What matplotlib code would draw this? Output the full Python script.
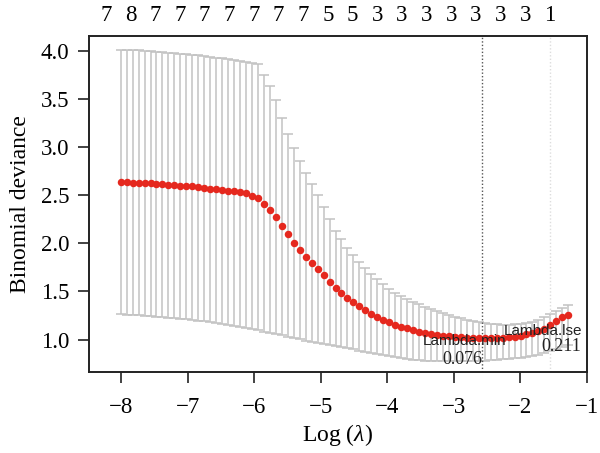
import matplotlib
matplotlib.use("Agg")
import matplotlib.pyplot as plt
import numpy as np

# ---------------- data ----------------
log_lambda = [
    -8.010, -7.920, -7.831, -7.741, -7.651, -7.561, -7.472, -7.382, -7.292, -7.202,
    -7.113, -7.023, -6.933, -6.843, -6.754, -6.664, -6.574, -6.484, -6.395, -6.305,
    -6.215, -6.125, -6.036, -5.946, -5.856, -5.767, -5.677, -5.587, -5.497, -5.408,
    -5.318, -5.228, -5.138, -5.049, -4.959, -4.869, -4.779, -4.690, -4.600, -4.510,
    -4.420, -4.331, -4.241, -4.151, -4.061, -3.972, -3.882, -3.792, -3.702, -3.613,
    -3.523, -3.433, -3.343, -3.254, -3.164, -3.074, -2.984, -2.895, -2.805, -2.715,
    -2.625, -2.536, -2.446, -2.356, -2.267, -2.177, -2.087, -1.997, -1.908, -1.818,
    -1.728, -1.638, -1.549, -1.459, -1.369, -1.280]

cv_mean = [
    2.635, 2.635, 2.631, 2.628, 2.624, 2.621, 2.617, 2.614, 2.610, 2.604,
    2.600, 2.593, 2.590, 2.583, 2.576, 2.569, 2.562, 2.555, 2.548, 2.538,
    2.531, 2.521, 2.489, 2.473, 2.413, 2.351, 2.275, 2.178, 2.092, 2.006,
    1.929, 1.861, 1.798, 1.736, 1.670, 1.601, 1.535, 1.483, 1.436, 1.387,
    1.348, 1.307, 1.270, 1.239, 1.207, 1.183, 1.156, 1.135, 1.117, 1.096,
    1.083, 1.069, 1.058, 1.048, 1.041, 1.034, 1.027, 1.024, 1.017, 1.013,
    1.013, 1.013, 1.013, 1.017, 1.020, 1.024, 1.031, 1.041, 1.055, 1.072,
    1.089, 1.113, 1.151, 1.189, 1.231, 1.259]

cv_upper = [
    4.010, 4.008, 4.005, 4.002, 3.998, 3.994, 3.990, 3.985, 3.980, 3.975,
    3.969, 3.963, 3.957, 3.950, 3.943, 3.936, 3.928, 3.920, 3.912, 3.903,
    3.894, 3.884, 3.872, 3.858, 3.751, 3.637, 3.485, 3.302, 3.136, 2.990,
    2.852, 2.725, 2.611, 2.500, 2.376, 2.248, 2.133, 2.040, 1.954, 1.874,
    1.809, 1.739, 1.684, 1.625, 1.573, 1.529, 1.487, 1.452, 1.418, 1.390,
    1.366, 1.342, 1.318, 1.297, 1.276, 1.256, 1.238, 1.221, 1.207, 1.193,
    1.183, 1.172, 1.166, 1.159, 1.155, 1.155, 1.159, 1.162, 1.169, 1.183,
    1.207, 1.235, 1.262, 1.293, 1.328, 1.356]

cv_lower = [
    1.262, 1.259, 1.256, 1.252, 1.248, 1.244, 1.240, 1.234, 1.228, 1.222,
    1.216, 1.210, 1.203, 1.196, 1.189, 1.182, 1.175, 1.164, 1.153, 1.141,
    1.130, 1.118, 1.107, 1.095, 1.082, 1.070, 1.057, 1.044, 1.030, 1.017,
    1.004, 0.990, 0.978, 0.966, 0.954, 0.943, 0.932, 0.921, 0.910, 0.898,
    0.885, 0.873, 0.861, 0.849, 0.837, 0.826, 0.815, 0.805, 0.796, 0.791,
    0.787, 0.783, 0.780, 0.778, 0.776, 0.775, 0.775, 0.775, 0.776, 0.777,
    0.779, 0.782, 0.786, 0.790, 0.795, 0.800, 0.806, 0.813, 0.821, 0.830,
    0.845, 0.862, 0.880, 0.900, 0.922, 0.945]

top_positions = [-8.233, -7.862, -7.491, -7.120, -6.749, -6.378, -6.007, -5.636,
                 -5.265, -4.894, -4.523, -4.152, -3.781, -3.410, -3.039, -2.668,
                 -2.297, -1.926, -1.556]
top_labels = ["7", "8", "7", "7", "7", "7", "7", "7", "7", "5", "5",
              "3", "3", "3", "3", "3", "3", "3", "1"]

lambda_min = 0.076
lambda_1se = 0.211

x_ticks = [-8, -7, -6, -5, -4, -3, -2, -1]
y_ticks = [1.0, 1.5, 2.0, 2.5, 3.0, 3.5, 4.0]

# ---------------- style ----------------
SERIF = "Liberation Serif"
SANS = "Liberation Sans"
plt.rcParams["font.family"] = [SERIF, "DejaVu Serif"]
plt.rcParams["mathtext.fontset"] = "custom"
plt.rcParams["mathtext.it"] = "Liberation Serif:italic"
plt.rcParams["mathtext.rm"] = "Liberation Serif"
plt.rcParams["axes.unicode_minus"] = True

fig = plt.figure(figsize=(6.0, 4.53), dpi=100)
ax = fig.add_axes([0.148, 0.179, 0.830, 0.7415])

x = np.array(log_lambda)
m = np.array(cv_mean)
up = np.array(cv_upper)
lo = np.array(cv_lower)

ax.errorbar(x, m, yerr=[m - lo, up - m], fmt="none", ecolor="#c2c2c2",
            elinewidth=1.1, capsize=3.4, capthick=1.1, zorder=1)
ax.plot(x, m, "o", color="#e5281e", markersize=5.4, markeredgewidth=0, zorder=3)

lmin = np.log(lambda_min)
l1se = np.log(lambda_1se)
ax.axvline(lmin, color="#555555", linestyle=(0, (1, 1.5)), linewidth=1.0, zorder=2)
ax.axvline(l1se, color="#dddddd", linestyle=(0, (1, 1.5)), linewidth=1.0, zorder=2)

ax.text(-2.835, 0.982, "Lambda.min", family=SANS, fontsize=11,
        ha="center", va="center", color="#222222", zorder=4)
ax.text(-2.865, 0.795, "%.3f" % lambda_min, family=SERIF, fontsize=13,
        ha="center", va="center", color="#222222", zorder=4)
ax.text(-1.662, 1.086, "Lambda.lse", family=SANS, fontsize=11,
        ha="center", va="center", color="#222222", zorder=4, clip_on=True)
ax.text(-1.376, 0.931, "%.3f" % lambda_1se, family=SERIF, fontsize=13,
        ha="center", va="center", color="#222222", zorder=4)

ax.set_xlim(-8.49, -1.0)
ax.set_ylim(0.665, 4.152)
ax.set_xticks(x_ticks)
ax.set_xticklabels(["\u2212%d" % abs(v) for v in x_ticks])
ax.set_yticks(y_ticks)
ax.set_yticklabels(["%.1f" % v for v in y_ticks])
ax.tick_params(axis="both", direction="out", length=8, width=1.2, labelsize=16.5,
               color="#222222")
ax.tick_params(axis="x", pad=10)
ax.tick_params(axis="y", pad=6)
for s in ax.spines.values():
    s.set_linewidth(1.4)
    s.set_color("#222222")

ax.set_xlabel("Log ($\\lambda$)", fontsize=17, labelpad=3)
ax.set_ylabel("Binomial deviance", fontsize=17, labelpad=7)

sec = ax.secondary_xaxis("top")
sec.set_xticks(top_positions)
sec.set_xticklabels(top_labels)
sec.tick_params(length=0, pad=7, labelsize=16.5)
sec.spines["top"].set_visible(False)

fig.savefig("out.png", dpi=100)
